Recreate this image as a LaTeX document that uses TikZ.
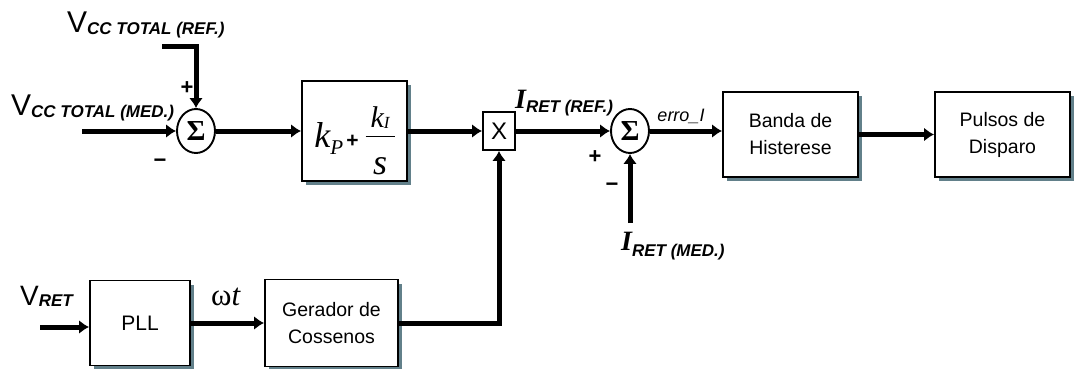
\documentclass[tikz,border=0pt]{standalone}
\usepackage{fontspec}
\setmainfont{Liberation Sans}
\newfontfamily\tnr{Liberation Serif}
\usetikzlibrary{calc,arrows.meta,shapes.geometric,shadows}
\definecolor{shadowgray}{RGB}{98,128,138}

% subscript in bold italic sans, dropped a little
\newcommand{\lowsub}[2][3pt]{\raisebox{-#1}{\fontsize{17}{17}\selectfont\bfseries\itshape #2}}
% PI law k_P + k_I/s
\newcommand{\pilaw}{%
  {\tnr\itshape\fontsize{36}{36}\selectfont k}%
  \raisebox{-7pt}{\tnr\itshape\fontsize{21}{21}\selectfont P}%
  \hspace{3pt}{\fontsize{21}{21}\selectfont\bfseries +}\hspace{7pt}%
  \raisebox{-27pt}{\begin{tabular}[b]{@{\hspace{5pt}}c@{\hspace{5pt}}}
    {\tnr\itshape\fontsize{30}{30}\selectfont k}\raisebox{-1pt}{\tnr\itshape\fontsize{17}{17}\selectfont I}\\ \hline
    \rule{0pt}{38pt}{\tnr\itshape\fontsize{36}{36}\selectfont s}
  \end{tabular}}}

\begin{document}
\begin{tikzpicture}[x=1pt,y=-1pt,
  blk/.style={draw,line width=1.9pt,fill=white,inner sep=0pt,align=center,
    font=\fontsize{19.5}{27}\selectfont,
    drop shadow={shadow xshift=4pt,shadow yshift=-4pt,fill=shadowgray,opacity=1}},
  sumnode/.style={draw,ellipse,line width=1.9pt,minimum width=38pt,minimum height=44pt,
    inner sep=0pt,font=\fontsize{29}{29}\selectfont\tnr\bfseries},
  arr/.style={line width=5pt,-{Latex[length=10pt,width=14pt]}},
  sgn/.style={inner sep=0pt,font=\fontsize{22}{22}\selectfont\bfseries},
  lbl/.style={inner sep=0pt,anchor=base west}]
  \useasboundingbox (0,0) rectangle (1074,369);

  % upper row
  \node[sumnode] (sum1) at (196,131) {Σ};
  \node[blk,minimum width=105pt,text height=66pt,text depth=34pt] (pi) at (354.5,131) {\pilaw};
  \node[draw,line width=1.9pt,minimum width=32pt,minimum height=38pt,inner sep=0pt,
    font=\fontsize{24}{24}\selectfont] (mult) at (499,131) {X};
  \node[sumnode] (sum2) at (630,131) {Σ};
  \node[blk,minimum width=135pt,minimum height=85pt] (banda) at (790.5,134.5) {Banda de\\Histerese};
  \node[blk,minimum width=135pt,minimum height=85pt] (pulsos) at (1002.5,134.5) {Pulsos de\\Disparo};

  % lower row
  \node[blk,minimum width=100pt,minimum height=85pt,font=\fontsize{21}{21}\selectfont] (pll) at (140,323) {PLL};
  \node[blk,minimum width=133pt,minimum height=87pt] (gerador) at (331.5,323) {Gerador de\\Cossenos};

  % free ends of the inputs
  \coordinate (vref) at (162,47);
  \coordinate (vmed) at (82,131);
  \coordinate (imed) at (630,223);
  \coordinate (vret) at (40,327);

  % connectors
  \draw[arr] (vref) -| (sum1);
  \draw[arr] (vmed) -- (sum1);
  \draw[arr] (sum1) -- (pi);
  \draw[arr] (pi) -- (mult);
  \draw[arr] (mult) -- (sum2);
  \draw[arr] (imed) -- (sum2);
  \draw[arr] (sum2.east) -- (sum2.east -| banda.west);
  \draw[arr] (banda) -- (pulsos);
  \draw[arr] (vret) -- (vret -| pll.west);
  \draw[arr] (pll) -- (gerador);
  \draw[arr] (gerador.east) -| (mult);

  % signs at the summing points
  \node[sgn] (p1) at (187,88) {+};
  \node[sgn] (m1) at (160,163) {−};
  \node[sgn] (p2) at (595,157) {+};
  \node[sgn] (m2) at (612,187) {−};

  % signal names
  \node[lbl] (lvref) at (67,33) {{\fontsize{30}{30}\selectfont V}\lowsub[2pt]{CC TOTAL (REF.)}};
  \node[lbl] (lvmed) at (11,115) {{\fontsize{30}{30}\selectfont V}\lowsub[2pt]{CC TOTAL (MED.)}};
  \node[lbl] (liref) at (515,108) {{\tnr\bfseries\itshape\fontsize{28}{28}\selectfont I}\lowsub[4pt]{RET (REF.)}};
  \node[lbl] (limed) at (621,250) {{\tnr\bfseries\itshape\fontsize{28}{28}\selectfont I}\lowsub[6pt]{RET (MED.)}};
  \node[lbl] (lvret) at (20,305) {{\fontsize{28}{28}\selectfont V}\lowsub[1pt]{RET}};
  \node[lbl] (lwt) at (211,305) {\tnr\fontsize{31}{31}\selectfont ω{\itshape t}};
  \node[inner sep=0pt,font=\fontsize{18}{18}\selectfont\itshape] (lerro) at (681,116) {erro\_I};
\end{tikzpicture}
\end{document}
